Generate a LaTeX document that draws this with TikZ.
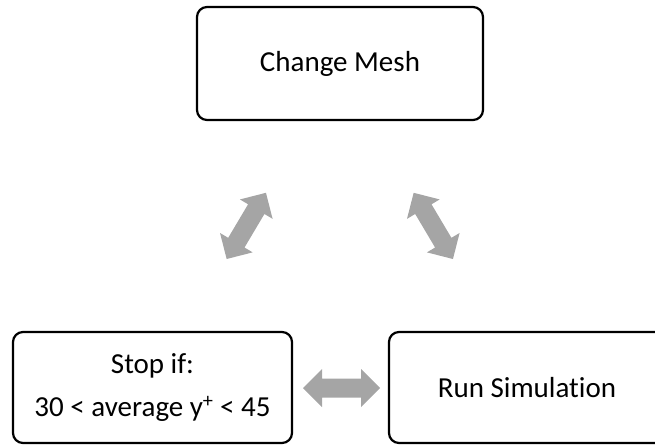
\documentclass[tikz,border=0pt]{standalone}
\usepackage{fontspec}
\setmainfont{Carlito}[Ligatures=NoCommon]
\definecolor{arrowgray}{HTML}{A5A5A5}
\tikzset{
  stagebox/.style={draw=black, line width=2.2pt, rounded corners=10pt, fill=white,
    inner sep=0pt, minimum height=111pt, font=\fontsize{29}{43}\selectfont, align=center},
  % block double arrow: 77 long, head 38 wide and 19 long, shaft 19 wide
  swaparrow/.pic={
    \fill[arrowgray] (-38.5,0) -- (-19.5,19) -- (-19.5,9.5) -- (19.5,9.5) -- (19.5,19)
      -- (38.5,0) -- (19.5,-19) -- (19.5,-9.5) -- (-19.5,-9.5) -- (-19.5,-19) -- cycle;
  },
}
\begin{document}
\begin{tikzpicture}[x=1pt, y=-1pt]
  \useasboundingbox (0,0) rectangle (655,444);
  \clip (0,0) rectangle (655,444);
  % process stages
  \node[stagebox, minimum width=286pt, minimum height=113pt] (mesh) at (340,63.5) {Change Mesh};
  \node[stagebox, minimum width=279pt] (stop) at (152.5,387.5) {Stop if:\\30 < average y\textsuperscript{+} < 45};
  \node[stagebox, minimum width=276pt] (run) at (527,387.5) {Run Simulation};
  % two-way arrows between the stages
  \pic (swap1) at (341.5,388) {swaparrow};
  \pic[rotate=59.3] (swap2) at (246.3,225.9) {swaparrow};
  \pic[rotate=-59.3] (swap3) at (433.3,225.9) {swaparrow};
\end{tikzpicture}
\end{document}
